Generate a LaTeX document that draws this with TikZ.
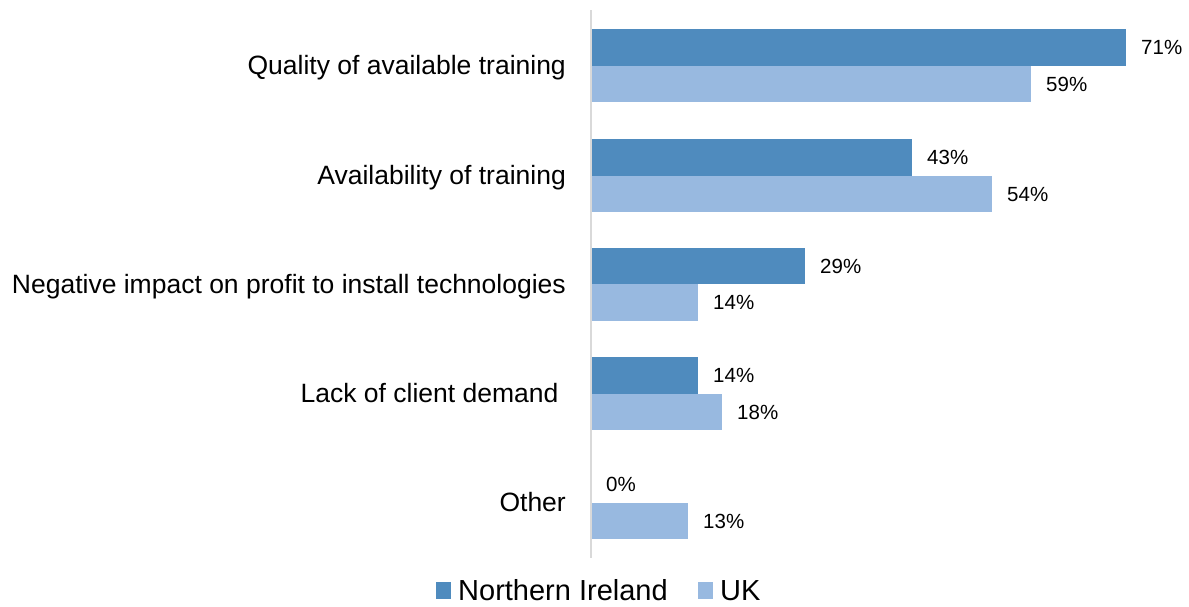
\documentclass[tikz,border=0pt]{standalone}
\usepackage{fontspec}
\setmainfont{Liberation Sans}
\definecolor{nicol}{RGB}{79,139,190}
\definecolor{ukcol}{RGB}{152,185,224}
\definecolor{axiscol}{RGB}{217,217,217}
\begin{document}
\begin{tikzpicture}[x=1pt,y=-1pt,
  catlabel/.style={anchor=base east,inner sep=0pt,font=\fontsize{26.5}{30}\selectfont},
  vallabel/.style={anchor=base west,inner sep=0pt,font=\fontsize{20.5}{24}\selectfont},
  legtext/.style={anchor=base west,inner sep=0pt,font=\fontsize{29}{33}\selectfont},
  nibar/.style={fill=nicol},
  ukbar/.style={fill=ukcol}]
\useasboundingbox (0,0) rectangle (1189,606);
% bars: category tops
\foreach \t/\ni/\uk/\nip/\ukp [count=\i] in {29/1126/1031/71/59, 139/912/992/43/54, 247.5/805/698/29/14, 357/698/722/14/18, 466/591/688/0/13}{
  \fill[nibar] (591,\t) rectangle (\ni,\t+36.5);
  \fill[ukbar] (591,\t+36.5) rectangle (\uk,\t+73);
  \node[vallabel] (ni\i) at (\ni+15,\t+18.25+7.3) {\nip\%};
  \node[vallabel] (uk\i) at (\uk+15,\t+54.75+7.3) {\ukp\%};
}
\draw[axiscol,line width=1.5pt] (591,10) -- (591,558);
\node[catlabel] (c1) at (566,65.5+9.4) {Quality of available training};
\node[catlabel] (c2) at (566,175+9.4) {Availability of training};
\node[catlabel] (c3) at (566,284+9.4) {Negative impact on profit to install technologies};
\node[catlabel] (c4) at (566,393.5+9.4) {Lack of client demand\kern0.278em};
\node[catlabel] (c5) at (566,502.5+9.4) {Other};
% legend
\fill[nicol] (436,582) rectangle (451,599);
\node[legtext] (l1) at (458,600) {Northern Ireland};
\fill[ukcol] (698,582) rectangle (713,599);
\node[legtext] (l2) at (720,600) {UK};
\end{tikzpicture}
\end{document}
